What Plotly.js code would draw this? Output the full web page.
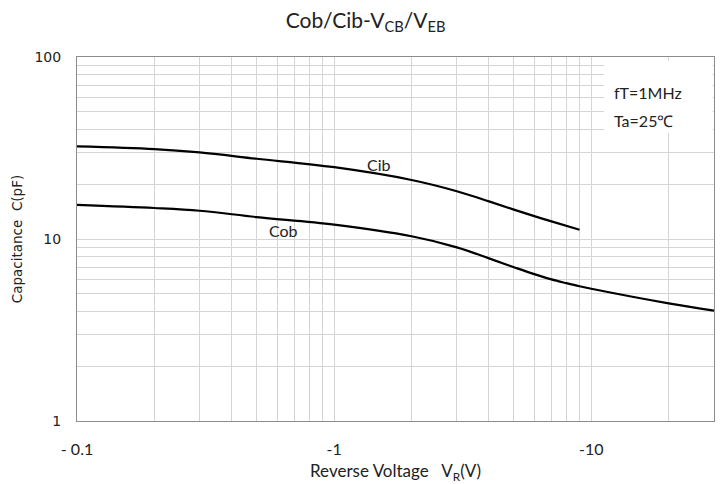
<!DOCTYPE html>
<html>
<head>
<meta charset="utf-8">
<script src="https://cdn.plot.ly/plotly-3.0.1.min.js"></script>
<style>html,body{margin:0;padding:0;background:#fff;}#chart{width:724px;height:484px;}</style>
</head>
<body>
<div id="chart"></div>
<script>
// Reverse voltage magnitude |V| (V) and capacitance (pF)
const cibVoltage = [0.1, 0.2, 0.3, 0.5, 1, 2, 3, 4, 5, 6, 7, 9];
const cibCap     = [32.3, 31.2, 29.9, 27.6, 24.8, 21.1, 18.3, 16.1, 14.5, 13.35, 12.5, 11.25];
const cobVoltage = [0.1, 0.2, 0.3, 0.5, 1, 2, 3, 4, 5, 6, 7, 8, 9, 10, 20, 30];
const cobCap     = [15.4, 14.8, 14.3, 13.2, 12.0, 10.35, 9.0, 7.83, 7.0, 6.41, 6.0, 5.72, 5.5, 5.33, 4.43, 4.04];

const xTickVals  = [0.1, 1, 10];
const xTickText  = ['- 0.1', '-1', '-10'];
const xMinorVals = [0.2,0.3,0.4,0.5,0.6,0.7,0.8,0.9,2,3,4,5,6,7,8,9,20,30];
const yTickVals  = [1, 10, 100];
const yTickText  = ['1', '10', '100'];
const yMinorVals = [2,3,4,5,6,7,8,9,20,30,40,50,60,70,80,90];

const lineStyle = {color: '#000000', width: 2.2, shape: 'spline', smoothing: 1};
const traces = [
  {x: cibVoltage, y: cibCap, mode: 'lines', line: lineStyle, name: 'Cib', hoverinfo: 'skip'},
  {x: cobVoltage, y: cobCap, mode: 'lines', line: lineStyle, name: 'Cob', hoverinfo: 'skip'}
];

const calibriLike = 'Lato, "Open Sans", sans-serif';
const gridCol = '#d4d4d4';
const layout = {
  width: 724, height: 484,
  margin: {l: 77, r: 10, t: 57, b: 63},
  paper_bgcolor: '#ffffff', plot_bgcolor: '#ffffff',
  showlegend: false,
  title: {
    text: 'Cob/Cib-V<sub>CB</sub>/V<sub>EB</sub>',
    font: {family: calibriLike, size: 21, color: '#222'},
    x: 0.505, xref: 'container', y: 0.958, yref: 'container', xanchor: 'center', yanchor: 'middle'
  },
  xaxis: {
    type: 'log',
    range: [Math.log10(0.1), Math.log10(30)],
    tickmode: 'array', tickvals: xTickVals, ticktext: xTickText,
    showgrid: true, gridcolor: gridCol, gridwidth: 1,
    minor: {tickmode: 'array', tickvals: xMinorVals, showgrid: true, gridcolor: gridCol, gridwidth: 1, ticks: ''},
    showline: true, linecolor: '#8c8c8c', linewidth: 1, mirror: true,
    ticks: '', ticklabelstandoff: 14,
    tickfont: {family: calibriLike, size: 16, color: '#222'},
    zeroline: false,
    title: {text: 'Reverse Voltage   V<sub>R</sub>(V)', font: {family: calibriLike, size: 17, color: '#222'}, standoff: 10}
  },
  yaxis: {
    type: 'log',
    range: [0, 2],
    tickmode: 'array', tickvals: yTickVals, ticktext: yTickText,
    showgrid: true, gridcolor: gridCol, gridwidth: 1,
    minor: {tickmode: 'array', tickvals: yMinorVals, showgrid: true, gridcolor: gridCol, gridwidth: 1, ticks: ''},
    showline: true, linecolor: '#8c8c8c', linewidth: 1, mirror: true,
    ticks: '', ticklabelstandoff: 12,
    tickfont: {family: '"DejaVu Sans", sans-serif', size: 14, color: '#222'},
    zeroline: false,
    title: {text: 'Capacitance  C(pF)', font: {family: '"DejaVu Sans", sans-serif', size: 13.5, color: '#222'}, standoff: 8}
  },
  shapes: [
    {type: 'rect', xref: 'x domain', yref: 'y domain', x0: 0.827, x1: 0.998, y0: 0.791, y1: 0.99,
     fillcolor: '#ffffff', line: {width: 0}, layer: 'above'}
  ],
  annotations: [
    {text: 'Cib', xref: 'x', yref: 'y', x: Math.log10(1.5), y: Math.log10(25.8), showarrow: false,
     font: {family: calibriLike, size: 16, color: '#222'}},
    {text: 'Cob', xref: 'x', yref: 'y', x: Math.log10(0.633), y: Math.log10(11.2), showarrow: false,
     font: {family: calibriLike, size: 16, color: '#222'}},
    {text: 'fT=1MHz', xref: 'paper', yref: 'paper', x: 0.84, y: 0.934, xanchor: 'left', showarrow: false,
     font: {family: calibriLike, size: 16, color: '#222'}},
    {text: 'Ta=25℃', xref: 'paper', yref: 'paper', x: 0.84, y: 0.857, xanchor: 'left', showarrow: false,
     font: {family: calibriLike, size: 16, color: '#222'}}
  ]
};

Plotly.newPlot('chart', traces, layout, {displayModeBar: false, staticPlot: true});
</script>
</body>
</html>
